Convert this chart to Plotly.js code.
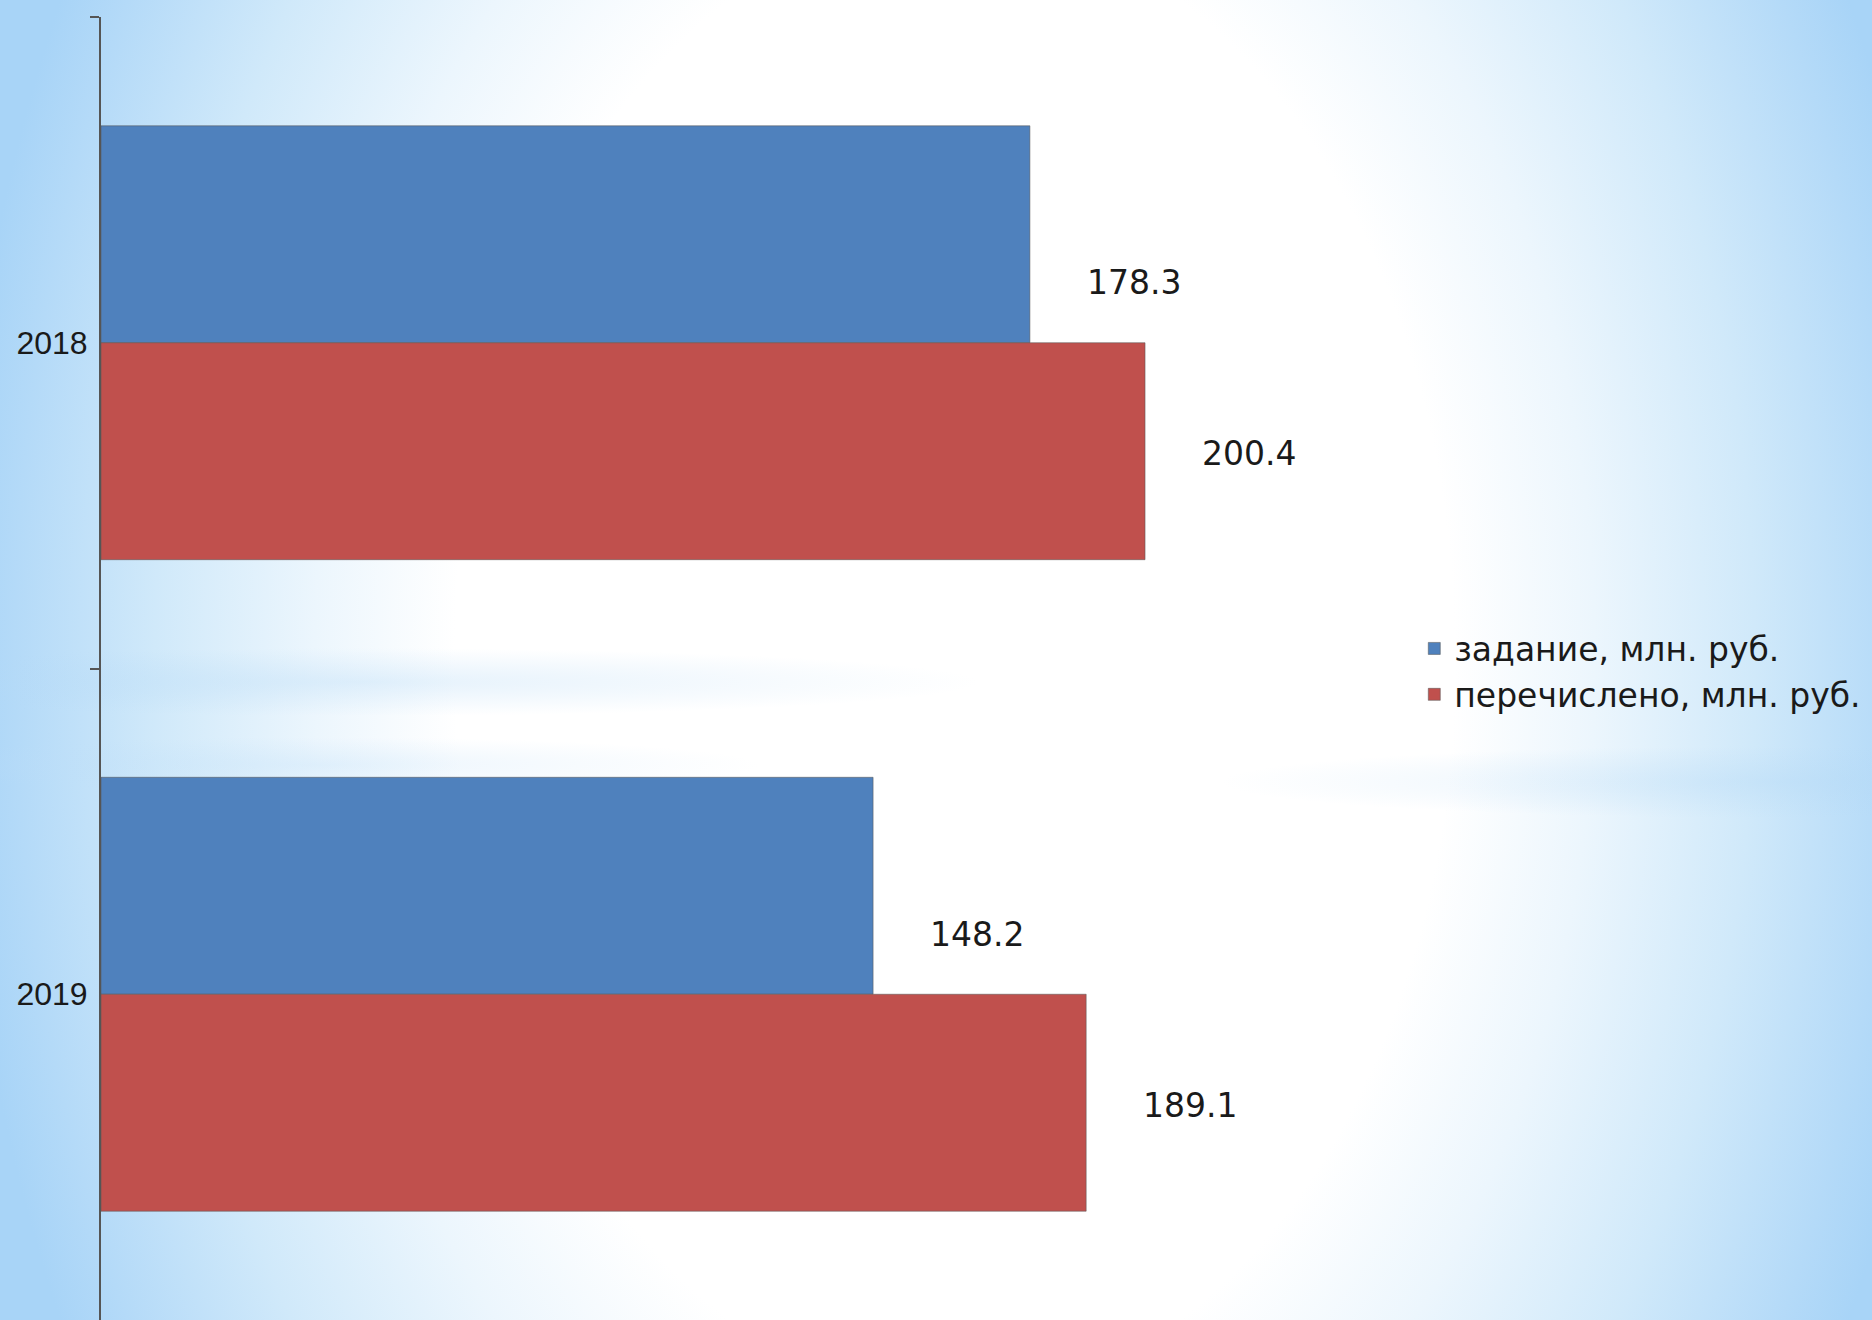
<!DOCTYPE html>
<html>
<head>
<meta charset="utf-8">
<script src="https://cdn.plot.ly/plotly-3.0.1.min.js"></script>
<style>
  html, body { margin: 0; padding: 0; }
  #chart {
    width: 1872px; height: 1320px;
    background:
      radial-gradient(ellipse 620px 34px at 360px 682px, rgba(180,217,246,0.35) 0%, rgba(180,217,246,0) 100%),
      radial-gradient(ellipse 560px 36px at 1780px 782px, rgba(180,217,246,0.35) 0%, rgba(180,217,246,0) 100%),
      radial-gradient(ellipse 440px 28px at 320px 765px, rgba(190,222,248,0.3) 0%, rgba(190,222,248,0) 100%),
      radial-gradient(ellipse 1000px 1476px at 51% 50%, #ffffff 0%, #ffffff 50%, #ecf6fd 64%, #d0e9fa 80%, #b4daf8 94%, #a8d4f7 100%);
  }
</style>
</head>
<body>
<div id="chart"></div>
<script>
const categories = ['2018', '2019'];
const seriesNames = ['задание, млн. руб.', 'перечислено, млн. руб.'];
const zadanie = [178.3, 148.2];
const perechisleno = [200.4, 189.1];
const seriesValues = [zadanie, perechisleno];
const seriesColors = ['#4f81bd', '#c0504d'];
const labelYShift = [60, -111];

const traces = seriesValues.map((vals, i) => ({
  type: 'bar',
  orientation: 'h',
  name: seriesNames[i],
  y: categories,
  x: vals,
  marker: { color: seriesColors[i], line: { color: 'rgba(90,90,90,0.55)', width: 1 } },
  hoverinfo: 'x+name'
}));

const annotations = [];
seriesValues.forEach((vals, i) => {
  vals.forEach((v, j) => {
    annotations.push({
      x: v, y: j, xref: 'x', yref: 'y',
      text: v.toFixed(1), showarrow: false,
      xanchor: 'left', yanchor: 'middle',
      xshift: 55, yshift: labelYShift[i],
      font: { family: 'DejaVu Sans', size: 33, color: '#1a1a1a' }
    });
  });
});

const layout = {
  width: 1872, height: 1320,
  paper_bgcolor: 'rgba(0,0,0,0)',
  plot_bgcolor: 'rgba(0,0,0,0)',
  margin: { l: 101, r: 492, t: 17, b: 0, pad: 0 },
  barmode: 'group',
  bargap: 0.334,
  bargroupgap: 0,
  showlegend: true,
  legend: {
    xref: 'container', yref: 'container',
    x: 0.7555, y: 0.4913, xanchor: 'left', yanchor: 'middle',
    traceorder: 'normal',
    font: { family: 'DejaVu Sans', size: 33, color: '#1a1a1a' },
    bgcolor: 'rgba(0,0,0,0)', borderwidth: 0
  },
  xaxis: {
    range: [0, 245.5],
    showgrid: false, zeroline: false, showline: false,
    showticklabels: false, ticks: ''
  },
  yaxis: {
    type: 'category',
    range: [1.5, -0.5],
    showline: true, linecolor: '#555555', linewidth: 2,
    ticks: 'outside', tickson: 'boundaries', ticklen: 9, tickwidth: 2, tickcolor: '#555555',
    ticklabelstandoff: 5,
    showgrid: false, zeroline: false,
    tickfont: { family: 'Liberation Sans', size: 32, color: '#1a1a1a' }
  },
  annotations: annotations
};

Plotly.newPlot('chart', traces, layout, { displayModeBar: false, staticPlot: true });
</script>
</body>
</html>
